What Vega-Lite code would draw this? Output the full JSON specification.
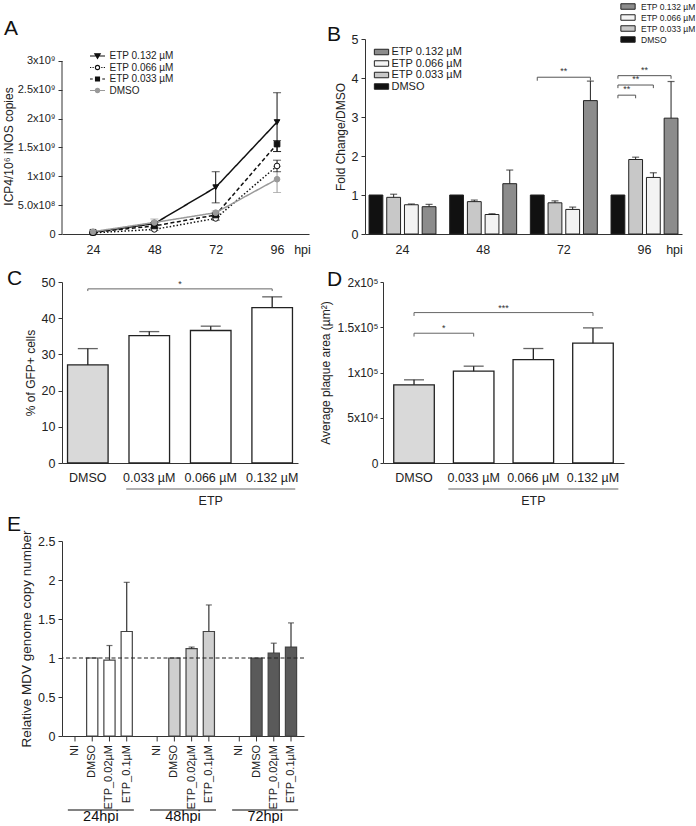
{
"$schema":"https://vega.github.io/schema/vega-lite/v6.json",
"padding":{"left":2,"top":0,"right":0,"bottom":0},
"config":{
 "font":"Liberation Sans",
 "view":{"stroke":null},
 "axis":{"grid":false,"labelOverlap":false,"domainColor":"#333","tickColor":"#333","labelColor":"#222","titleColor":"#222","labelFontSize":11.5,"titleFontSize":12,"titleFontWeight":"normal","tickSize":4,"labelPadding":3},
 "title":{"fontSize":21,"fontWeight":"normal","anchor":"start","frame":"group","offset":0,"color":"#111"},
 "legend":{"labelFontSize":10,"labelColor":"#222"}
},
"spacing":6,
"align":"none",
"resolve":{"scale":{"x":"independent","y":"independent","xOffset":"independent","fill":"independent","stroke":"independent","color":"independent","shape":"independent","strokeDash":"independent"}},
"vconcat":[
 {"spacing":12,"align":"none",
  "resolve":{"scale":{"x":"independent","y":"independent","xOffset":"independent","fill":"independent","stroke":"independent","color":"independent","shape":"independent","strokeDash":"independent"}},
  "vconcat":[
   {"bounds":"flush","spacing":56,
    "resolve":{"scale":{"x":"independent","y":"independent","xOffset":"independent","fill":"independent","stroke":"independent","color":"independent","shape":"independent","strokeDash":"independent"}},
    "hconcat":[
     {"width":247,"height":195,
      "title":{"text":"A","dx":-58,"dy":4},
      "data":{"values":[
       {"t":24,"s":"ETP 0.132 µM","v":3e7,"lo":2e7,"hi":4e7},
       {"t":48,"s":"ETP 0.132 µM","v":1.8e8,"lo":1.6e8,"hi":2.0e8},
       {"t":72,"s":"ETP 0.132 µM","v":8.1e8,"lo":5.4e8,"hi":1.08e9},
       {"t":96,"s":"ETP 0.132 µM","v":1.94e9,"lo":1.43e9,"hi":2.45e9},
       {"t":24,"s":"ETP 0.066 µM","v":2e7,"lo":1e7,"hi":3e7},
       {"t":48,"s":"ETP 0.066 µM","v":8e7,"lo":6e7,"hi":1.0e8},
       {"t":72,"s":"ETP 0.066 µM","v":2.7e8,"lo":2.4e8,"hi":3.0e8},
       {"t":96,"s":"ETP 0.066 µM","v":1.18e9,"lo":1.08e9,"hi":1.28e9},
       {"t":24,"s":"ETP 0.033 µM","v":3e7,"lo":2e7,"hi":4e7},
       {"t":48,"s":"ETP 0.033 µM","v":1.4e8,"lo":1.1e8,"hi":1.7e8},
       {"t":72,"s":"ETP 0.033 µM","v":3.3e8,"lo":3.0e8,"hi":3.6e8},
       {"t":96,"s":"ETP 0.033 µM","v":1.56e9,"lo":1.43e9,"hi":1.62e9},
       {"t":24,"s":"DMSO","v":4e7,"lo":3e7,"hi":5e7},
       {"t":48,"s":"DMSO","v":2.0e8,"lo":1.4e8,"hi":2.6e8},
       {"t":72,"s":"DMSO","v":3.7e8,"lo":3.4e8,"hi":4.0e8},
       {"t":96,"s":"DMSO","v":9.5e8,"lo":7.2e8,"hi":1.17e9}
      ]},
      "resolve":{"scale":{"shape":"independent","fill":"independent","stroke":"independent"}},
      "layer":[
       {"mark":{"type":"line","strokeWidth":1.5},
        "encoding":{
         "x":{"field":"t","type":"quantitative","scale":{"domain":[11.87,108.5],"nice":false,"zero":false},
              "axis":{"values":[24,48,72,96],"tickCount":20,"labelOverlap":false,"ticks":false,"tickSize":0,"labelPadding":9,"labelFontSize":12.5,"title":"hpi","titleFontSize":12.5,"titleX":240,"titleY":9,"titleBaseline":"top","titleAlign":"center"}},
         "y":{"field":"v","type":"quantitative","scale":{"domain":[0,3.3815e9],"nice":false},
              "axis":{"values":[0,5e8,1e9,1.5e9,2e9,2.5e9,3e9],"tickCount":20,"labelOverlap":false,"domain":false,"labelFontSize":11,
                      "labelExpr":"datum.value==0?'0':datum.value==5e8?'5.0x10⁸':datum.value==1e9?'1x10⁹':datum.value==1.5e9?'1.5x10⁹':datum.value==2e9?'2x10⁹':datum.value==2.5e9?'2.5x10⁹':'3x10⁹'",
                      "title":"ICP4/10⁶ iNOS copies","titleY":107,"titleX":-54,"titleBaseline":"middle","titleAlign":"center","titleAngle":-90}},
         "color":{"field":"s","type":"nominal","scale":{"domain":["ETP 0.132 µM","ETP 0.066 µM","ETP 0.033 µM","DMSO"],"range":["#111","#111","#111","#9a9a9a"]},"legend":null},
         "strokeDash":{"field":"s","type":"nominal","scale":{"domain":["ETP 0.132 µM","ETP 0.066 µM","ETP 0.033 µM","DMSO"],"range":[[1,0],[1.5,2],[4,2.5],[1,0]]},"legend":null}
        }},
       {"data":{"values":[{}]},"mark":{"type":"rule","color":"#333"},
        "encoding":{"x":{"datum":11.87},"y":{"datum":0},"y2":{"datum":3e9}}},
       {"mark":{"type":"rule","strokeWidth":1},
        "encoding":{"x":{"field":"t","type":"quantitative"},"y":{"field":"lo","type":"quantitative"},"y2":{"field":"hi"},
                    "color":{"field":"s","type":"nominal","legend":null}}},
       {"mark":{"type":"tick","orient":"horizontal","size":8,"thickness":1},
        "encoding":{"x":{"field":"t","type":"quantitative"},"y":{"field":"lo","type":"quantitative"},
                    "color":{"field":"s","type":"nominal","legend":null}}},
       {"mark":{"type":"tick","orient":"horizontal","size":8,"thickness":1},
        "encoding":{"x":{"field":"t","type":"quantitative"},"y":{"field":"hi","type":"quantitative"},
                    "color":{"field":"s","type":"nominal","legend":null}}},
       {"mark":{"type":"point","size":32,"strokeWidth":1,"opacity":1},
        "encoding":{"x":{"field":"t","type":"quantitative"},"y":{"field":"v","type":"quantitative"},
         "shape":{"field":"s","type":"nominal","scale":{"domain":["ETP 0.132 µM","ETP 0.066 µM","ETP 0.033 µM","DMSO"],"range":["triangle-down","circle","square","circle"]},"legend":null},
         "fill":{"field":"s","type":"nominal","scale":{"domain":["ETP 0.132 µM","ETP 0.066 µM","ETP 0.033 µM","DMSO"],"range":["#111","#fff","#111","#9a9a9a"]},"legend":null},
         "stroke":{"field":"s","type":"nominal","scale":{"domain":["ETP 0.132 µM","ETP 0.066 µM","ETP 0.033 µM","DMSO"],"range":["#111","#111","#111","#9a9a9a"]},"legend":null}}},
       {"data":{"values":[{"s":"DMSO"}]},"transform":[{"filter":"false"}],
        "mark":{"type":"point","opacity":1},
        "encoding":{
         "shape":{"field":"s","type":"nominal","scale":{"domain":["ETP 0.132 µM","ETP 0.066 µM","ETP 0.033 µM","DMSO"],"range":["M-1.5,0H1.5M-0.55,-0.45H0.55L0,0.5Z","M-1.5,0H-1.25M-1.0,0H-0.75M0.75,0H1.0M1.25,0H1.5M0.42,0A0.42,0.42,0,1,1,-0.42,0A0.42,0.42,0,1,1,0.42,0Z","M-1.5,0H-0.95M0.95,0H1.5M-0.4,-0.4H0.4V0.4H-0.4Z","M-1.5,0H1.5M0.42,0A0.42,0.42,0,1,1,-0.42,0A0.42,0.42,0,1,1,0.42,0Z"]},
                  "legend":{"orient":"none","legendX":29.5,"legendY":11,"title":null,"symbolSize":100,"symbolStrokeWidth":1.1,"labelFontSize":10,"labelOffset":6,"rowPadding":0.5}},
         "fill":{"field":"s","type":"nominal","scale":{"domain":["ETP 0.132 µM","ETP 0.066 µM","ETP 0.033 µM","DMSO"],"range":["#111","#fff","#111","#9a9a9a"]},
                  "legend":{"orient":"none","legendX":29.5,"legendY":11,"title":null,"symbolSize":100,"symbolStrokeWidth":1.1,"labelFontSize":10,"labelOffset":6,"rowPadding":0.5}},
         "stroke":{"field":"s","type":"nominal","scale":{"domain":["ETP 0.132 µM","ETP 0.066 µM","ETP 0.033 µM","DMSO"],"range":["#111","#111","#111","#9a9a9a"]},
                  "legend":{"orient":"none","legendX":29.5,"legendY":11,"title":null,"symbolSize":100,"symbolStrokeWidth":1.1,"labelFontSize":10,"labelOffset":6,"rowPadding":0.5}}
        }}
      ]},
     {"width":317,"height":195,
      "title":{"text":"B","dx":-38,"dy":48},
      "resolve":{"scale":{"fill":"independent"}},
      "layer":[
       {"data":{"name":"bdata","values":[
         {"g":"24","c":"DMSO","v":1.0,"hi":null},
         {"g":"24","c":"ETP 0.033 µM","v":0.94,"hi":1.02},
         {"g":"24","c":"ETP 0.066 µM","v":0.75,"hi":0.77},
         {"g":"24","c":"ETP 0.132 µM","v":0.70,"hi":0.76},
         {"g":"48","c":"DMSO","v":1.0,"hi":null},
         {"g":"48","c":"ETP 0.033 µM","v":0.83,"hi":0.87},
         {"g":"48","c":"ETP 0.066 µM","v":0.50,"hi":0.52},
         {"g":"48","c":"ETP 0.132 µM","v":1.29,"hi":1.64},
         {"g":"72","c":"DMSO","v":1.0,"hi":null},
         {"g":"72","c":"ETP 0.033 µM","v":0.80,"hi":0.85},
         {"g":"72","c":"ETP 0.066 µM","v":0.63,"hi":0.69},
         {"g":"72","c":"ETP 0.132 µM","v":3.42,"hi":3.92},
         {"g":"96","c":"DMSO","v":1.0,"hi":null},
         {"g":"96","c":"ETP 0.033 µM","v":1.91,"hi":1.97},
         {"g":"96","c":"ETP 0.066 µM","v":1.45,"hi":1.57},
         {"g":"96","c":"ETP 0.132 µM","v":2.97,"hi":3.91}
        ]},
        "mark":{"type":"bar","stroke":"#222","strokeWidth":1},
        "encoding":{
         "x":{"field":"g","type":"nominal","scale":{"domain":["24","48","72","96"],"paddingInner":0.17,"paddingOuter":0.05},
              "axis":{"labelAngle":0,"labelOverlap":false,"ticks":false,"tickSize":0,"labelPadding":9,"labelFontSize":12.5,"title":"hpi","titleFontSize":12.5,"titleX":309,"titleY":9,"titleBaseline":"top","titleAlign":"center"}},
         "xOffset":{"field":"c","type":"nominal","scale":{"domain":["DMSO","ETP 0.033 µM","ETP 0.066 µM","ETP 0.132 µM"],"paddingInner":0.22,"paddingOuter":0}},
         "y":{"field":"v","type":"quantitative","scale":{"domain":[0,5],"nice":false},"axis":{"values":[0,1,2,3,4,5],"format":"d","tickCount":20,"labelOverlap":false,"title":"Fold Change/DMSO","labelFontSize":12.5}},
         "fill":{"field":"c","type":"nominal","scale":{"domain":["ETP 0.132 µM","ETP 0.066 µM","ETP 0.033 µM","DMSO"],"range":["#8c8c8c","#f3f3f3","#c8c8c8","#111"]},
                 "legend":{"orient":"none","legendX":10.5,"legendY":7,"title":null,"symbolType":"M-1.3,-0.5H1.3V0.5H-1.3Z","symbolSize":121,"symbolStrokeColor":"#222","symbolStrokeWidth":1,"labelFontSize":11,"labelOffset":4,"rowPadding":0.5}}
        }},
       {"data":{"name":"bdata"},"mark":{"type":"rule","color":"#222"},
        "encoding":{"x":{"field":"g","type":"nominal"},"xOffset":{"field":"c","type":"nominal"},"y":{"field":"v","type":"quantitative"},"y2":{"field":"hi"}}},
       {"data":{"name":"bdata"},"transform":[{"filter":"datum.hi != null"}],"mark":{"type":"tick","orient":"horizontal","size":7,"thickness":1.2,"color":"#222"},
        "encoding":{"x":{"field":"g","type":"nominal"},"xOffset":{"field":"c","type":"nominal"},"y":{"field":"hi","type":"quantitative"}}},
       {"data":{"values":[
         {"id":"b1","g":"72","c":"DMSO","v":3.93,"s":1},{"id":"b1","g":"72","c":"DMSO","v":4.02,"s":2},{"id":"b1","g":"72","c":"ETP 0.132 µM","v":4.02,"s":3},{"id":"b1","g":"72","c":"ETP 0.132 µM","v":3.93,"s":4},
         {"id":"b2","g":"96","c":"DMSO","v":3.98,"s":1},{"id":"b2","g":"96","c":"DMSO","v":4.06,"s":2},{"id":"b2","g":"96","c":"ETP 0.132 µM","v":4.06,"s":3},{"id":"b2","g":"96","c":"ETP 0.132 µM","v":3.98,"s":4},
         {"id":"b3","g":"96","c":"DMSO","v":3.74,"s":1},{"id":"b3","g":"96","c":"DMSO","v":3.82,"s":2},{"id":"b3","g":"96","c":"ETP 0.066 µM","v":3.82,"s":3},{"id":"b3","g":"96","c":"ETP 0.066 µM","v":3.74,"s":4},
         {"id":"b4","g":"96","c":"DMSO","v":3.48,"s":1},{"id":"b4","g":"96","c":"DMSO","v":3.56,"s":2},{"id":"b4","g":"96","c":"ETP 0.033 µM","v":3.56,"s":3},{"id":"b4","g":"96","c":"ETP 0.033 µM","v":3.48,"s":4}
        ]},
        "mark":{"type":"line","color":"#555","strokeWidth":1},
        "encoding":{"x":{"field":"g","type":"nominal"},"xOffset":{"field":"c","type":"nominal"},"y":{"field":"v","type":"quantitative"},"detail":{"field":"id"},"order":{"field":"s","type":"quantitative"}}},
       {"data":{"values":[{"g":"72","v":4.02},{"g":"96","v":4.06}]},
        "mark":{"type":"text","text":"**","fontSize":9,"baseline":"bottom","dy":-1,"color":"#333"},
        "encoding":{"x":{"field":"g","type":"nominal","bandPosition":0.5},"y":{"field":"v","type":"quantitative"}}},
       {"data":{"values":[{"g":"96","v":3.82}]},
        "mark":{"type":"text","text":"**","fontSize":9,"baseline":"bottom","dy":-1,"color":"#333"},
        "encoding":{"x":{"field":"g","type":"nominal","bandPosition":0.368},"y":{"field":"v","type":"quantitative"}}},
       {"data":{"values":[{"g":"96","v":3.56}]},
        "mark":{"type":"text","text":"**","fontSize":9,"baseline":"bottom","dy":-1,"color":"#333"},
        "encoding":{"x":{"field":"g","type":"nominal","bandPosition":0.235},"y":{"field":"v","type":"quantitative"}}},
       {"data":{"values":[{"c":"DMSO"}]},"transform":[{"filter":"false"}],
        "mark":{"type":"point","opacity":1},
        "encoding":{"fill":{"field":"c","type":"nominal","scale":{"domain":["ETP 0.132 µM","ETP 0.066 µM","ETP 0.033 µM","DMSO"],"range":["#8c8c8c","#f3f3f3","#c8c8c8","#111"]},
                 "legend":{"orient":"none","legendX":257,"legendY":-38.5,"title":null,"symbolType":"M-1.3,-0.5H1.3V0.5H-1.3Z","symbolSize":121,"symbolStrokeColor":"#222","symbolStrokeWidth":1,"labelFontSize":8.5,"labelOffset":7,"rowPadding":0}}}}
      ]}
    ]},
   {"bounds":"flush","spacing":85,
    "resolve":{"scale":{"x":"independent","y":"independent","xOffset":"independent","fill":"independent","stroke":"independent","color":"independent","shape":"independent","strokeDash":"independent"}},
    "hconcat":[
     {"width":236,"height":181,
      "title":{"text":"C","dx":-55,"dy":17},
      "layer":[
       {"data":{"name":"cdata","values":[
         {"c":"DMSO","v":27.1,"hi":31.6},
         {"c":"0.033 µM","v":35.2,"hi":36.3},
         {"c":"0.066 µM","v":36.6,"hi":37.8},
         {"c":"0.132 µM","v":42.9,"hi":45.9}
        ]},
        "mark":{"type":"bar","stroke":"#222","strokeWidth":1.3},
        "encoding":{
         "x":{"field":"c","type":"nominal","scale":{"domain":["DMSO","0.033 µM","0.066 µM","0.132 µM"],"paddingInner":0.34,"paddingOuter":0.09},
              "axis":{"labelAngle":0,"labelOverlap":false,"ticks":false,"tickSize":0,"labelPadding":8,"labelFontSize":12.5,"title":null}},
         "y":{"field":"v","type":"quantitative","scale":{"domain":[0,50],"nice":false},"axis":{"values":[0,10,20,30,40,50],"format":"d","tickCount":20,"labelOverlap":false,"title":"% of GFP+ cells","labelFontSize":12.5}},
         "fill":{"field":"c","type":"nominal","scale":{"domain":["DMSO","0.033 µM","0.066 µM","0.132 µM"],"range":["#d9d9d9","#ffffff","#ffffff","#ffffff"]},"legend":null}
        }},
       {"data":{"name":"cdata"},"mark":{"type":"rule","color":"#222","strokeWidth":1.3},
        "encoding":{"x":{"field":"c","type":"nominal"},"y":{"field":"v","type":"quantitative"},"y2":{"field":"hi"}}},
       {"data":{"name":"cdata"},"mark":{"type":"tick","orient":"horizontal","size":20,"thickness":1.3,"color":"#222"},
        "encoding":{"x":{"field":"c","type":"nominal"},"y":{"field":"hi","type":"quantitative"}}},
       {"data":{"values":[{"c":"DMSO","v":47.5,"s":1},{"c":"DMSO","v":48.1,"s":2},{"c":"0.132 µM","v":48.1,"s":3},{"c":"0.132 µM","v":47.5,"s":4}]},
        "mark":{"type":"line","color":"#666","strokeWidth":1},
        "encoding":{"x":{"field":"c","type":"nominal"},"y":{"field":"v","type":"quantitative"},"order":{"field":"s","type":"quantitative"}}},
       {"data":{"values":[{"c":"0.033 µM","v":48.1}]},
        "mark":{"type":"text","text":"*","fontSize":9,"baseline":"bottom","dy":0,"color":"#333"},
        "encoding":{"x":{"field":"c","type":"nominal","bandPosition":1.256},"y":{"field":"v","type":"quantitative"}}},
       {"data":{"values":[{}]},"mark":{"type":"tick","orient":"horizontal","size":169,"thickness":1,"color":"#222"},
        "encoding":{"x":{"datum":"0.066 µM"},"y":{"datum":-7.2}}},
       {"data":{"values":[{}]},"mark":{"type":"text","text":"ETP","fontSize":12.5,"baseline":"middle","color":"#222"},
        "encoding":{"x":{"datum":"0.066 µM"},"y":{"datum":-10.5}}}
      ]},
     {"width":241,"height":181,
      "title":{"text":"D","dx":-56,"dy":18},
      "layer":[
       {"data":{"name":"ddata","values":[
         {"c":"DMSO","v":86400,"hi":91900},
         {"c":"0.033 µM","v":101500,"hi":107000},
         {"c":"0.066 µM","v":114300,"hi":126500},
         {"c":"0.132 µM","v":132400,"hi":149300}
        ]},
        "mark":{"type":"bar","stroke":"#222","strokeWidth":1.3},
        "encoding":{
         "x":{"field":"c","type":"nominal","scale":{"domain":["DMSO","0.033 µM","0.066 µM","0.132 µM"],"paddingInner":0.32,"paddingOuter":0.18},
              "axis":{"labelAngle":0,"labelOverlap":false,"ticks":false,"tickSize":0,"labelPadding":8,"labelFontSize":12.5,"title":null}},
         "y":{"field":"v","type":"quantitative","scale":{"domain":[0,200000],"nice":false},
              "axis":{"values":[0,50000,100000,150000,200000],"tickCount":20,"labelOverlap":false,"tickSize":3,"labelPadding":2,"labelFontSize":12,
                      "labelExpr":"datum.value==0?'0':datum.value==50000?'5x10⁴':datum.value==100000?'1x10⁵':datum.value==150000?'1.5x10⁵':'2x10⁵'",
                      "title":"Average plaque area (µm²)"}},
         "fill":{"field":"c","type":"nominal","scale":{"domain":["DMSO","0.033 µM","0.066 µM","0.132 µM"],"range":["#d9d9d9","#ffffff","#ffffff","#ffffff"]},"legend":null}
        }},
       {"data":{"name":"ddata"},"mark":{"type":"rule","color":"#222","strokeWidth":1.3},
        "encoding":{"x":{"field":"c","type":"nominal"},"y":{"field":"v","type":"quantitative"},"y2":{"field":"hi"}}},
       {"data":{"name":"ddata"},"mark":{"type":"tick","orient":"horizontal","size":20,"thickness":1.3,"color":"#222"},
        "encoding":{"x":{"field":"c","type":"nominal"},"y":{"field":"hi","type":"quantitative"}}},
       {"data":{"values":[
         {"id":"d1","c":"DMSO","v":162500,"s":1},{"id":"d1","c":"DMSO","v":166200,"s":2},{"id":"d1","c":"0.132 µM","v":166200,"s":3},{"id":"d1","c":"0.132 µM","v":162500,"s":4},
         {"id":"d2","c":"DMSO","v":139700,"s":1},{"id":"d2","c":"DMSO","v":143400,"s":2},{"id":"d2","c":"0.033 µM","v":143400,"s":3},{"id":"d2","c":"0.033 µM","v":139700,"s":4}
        ]},
        "mark":{"type":"line","color":"#666","strokeWidth":1},
        "encoding":{"x":{"field":"c","type":"nominal"},"y":{"field":"v","type":"quantitative"},"detail":{"field":"id"},"order":{"field":"s","type":"quantitative"}}},
       {"data":{"values":[{"c":"0.033 µM","v":166200,"t":"***"},{"c":"DMSO","v":143400,"t":"*"}]},
        "mark":{"type":"text","fontSize":9,"baseline":"bottom","dy":0,"color":"#333"},
        "encoding":{"x":{"field":"c","type":"nominal","bandPosition":1.235},"y":{"field":"v","type":"quantitative"},"text":{"field":"t"}}},
       {"data":{"values":[{}]},"mark":{"type":"tick","orient":"horizontal","size":170,"thickness":1,"color":"#222"},
        "encoding":{"x":{"datum":"0.066 µM"},"y":{"datum":-28700}}},
       {"data":{"values":[{}]},"mark":{"type":"text","text":"ETP","fontSize":12.5,"baseline":"middle","color":"#222"},
        "encoding":{"x":{"datum":"0.066 µM"},"y":{"datum":-42000}}}
      ]}
    ]}
  ]},
 {"width":242,"height":195,
  "title":{"text":"E","dx":-55,"dy":9},
  "layer":[
   {"data":{"name":"edata","values":[
     {"g":"24hpi","c":"NI","v":null,"hi":null},
     {"g":"24hpi","c":"DMSO","v":1.0,"hi":null},
     {"g":"24hpi","c":"ETP_0.02µM","v":0.974,"hi":1.16},
     {"g":"24hpi","c":"ETP_0.1µM","v":1.34,"hi":1.97},
     {"g":"48hpi","c":"NI","v":null,"hi":null},
     {"g":"48hpi","c":"DMSO","v":1.0,"hi":null},
     {"g":"48hpi","c":"ETP_0.02µM","v":1.12,"hi":1.14},
     {"g":"48hpi","c":"ETP_0.1µM","v":1.34,"hi":1.68},
     {"g":"72hpi","c":"NI","v":null,"hi":null},
     {"g":"72hpi","c":"DMSO","v":1.0,"hi":null},
     {"g":"72hpi","c":"ETP_0.02µM","v":1.064,"hi":1.19},
     {"g":"72hpi","c":"ETP_0.1µM","v":1.14,"hi":1.45}
    ]},
    "transform":[{"filter":"datum.v != null"}],
    "mark":{"type":"bar","stroke":"#444","strokeWidth":1.2},
    "encoding":{
     "x":{"field":"g","type":"nominal","scale":{"domain":["24hpi","48hpi","72hpi"],"paddingInner":0.234,"paddingOuter":0.09},
          "axis":{"labelAngle":0,"labelOverlap":false,"ticks":false,"tickSize":0,"labelPadding":73,"labelFontSize":14.5,"labelColor":"#111","title":null}},
     "xOffset":{"field":"c","type":"nominal","scale":{"domain":["NI","DMSO","ETP_0.02µM","ETP_0.1µM"],"paddingInner":0.35,"paddingOuter":0}},
     "y":{"field":"v","type":"quantitative","scale":{"domain":[0,2.5],"nice":false},
          "axis":{"values":[0,0.5,1,1.5,2,2.5],"tickCount":20,"labelOverlap":false,"labelExpr":"'' + datum.value","labelFontSize":12.5,"title":"Relative MDV genome copy number","titleFontSize":13.5}},
     "fill":{"field":"g","type":"nominal","scale":{"domain":["24hpi","48hpi","72hpi"],"range":["#ffffff","#cfcfcf","#5a5a5a"]},"legend":null}
    }},
   {"data":{"name":"edata"},"transform":[{"filter":"datum.hi != null"}],"mark":{"type":"rule","color":"#333","strokeWidth":1.2},
    "encoding":{"x":{"field":"g","type":"nominal"},"xOffset":{"field":"c","type":"nominal"},"y":{"field":"v","type":"quantitative"},"y2":{"field":"hi"}}},
   {"data":{"name":"edata"},"transform":[{"filter":"datum.hi != null"}],"mark":{"type":"tick","orient":"horizontal","size":6,"thickness":1.2,"color":"#333"},
    "encoding":{"x":{"field":"g","type":"nominal"},"xOffset":{"field":"c","type":"nominal"},"y":{"field":"hi","type":"quantitative"}}},
   {"data":{"values":[{}]},"mark":{"type":"rule","color":"#222","strokeDash":[4,2.5],"strokeWidth":1},
    "encoding":{"y":{"datum":1}}},
   {"data":{"name":"edata"},"mark":{"type":"rule","color":"#333"},
    "encoding":{"x":{"field":"g","type":"nominal"},"xOffset":{"field":"c","type":"nominal"},"y":{"datum":0},"y2":{"datum":-0.07}}},
   {"data":{"name":"edata"},"mark":{"type":"text","angle":270,"align":"right","baseline":"middle","fontSize":11,"color":"#222"},
    "encoding":{"x":{"field":"g","type":"nominal"},"xOffset":{"field":"c","type":"nominal"},"y":{"datum":-0.115},"text":{"field":"c"}}},
   {"data":{"values":[{"g":"24hpi"},{"g":"48hpi"},{"g":"72hpi"}]},"mark":{"type":"tick","orient":"horizontal","size":66,"thickness":1.5,"color":"#111"},
    "encoding":{"x":{"field":"g","type":"nominal"},"y":{"datum":-0.95}}}
  ]}
]
}
